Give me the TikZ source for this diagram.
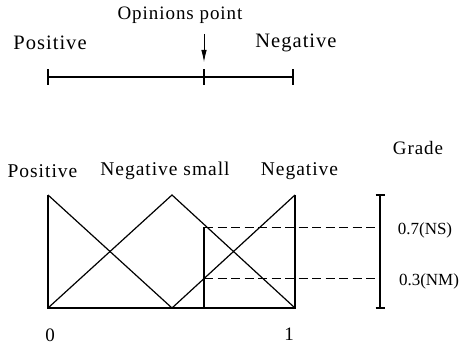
\documentclass[tikz,border=0pt]{standalone}
\usepackage{fontspec}
\setmainfont{Liberation Serif}[LetterSpace=5]
\newfontfamily\numfont{Liberation Serif}
\usetikzlibrary{arrows.meta}
\begin{document}
\begin{tikzpicture}[x=1pt,y=-1pt,
  lbl/.style={inner sep=0pt,font=\fontsize{19.5}{22}\selectfont},
  nlbl/.style={inner sep=0pt,font=\numfont\fontsize{17}{20}\selectfont},
  ln/.style={line width=1.2pt},
  dsh/.style={line width=0.9pt,dash pattern=on 9pt off 4.5pt},
  tick/.style={line width=1.2pt}]
\useasboundingbox (0,0) rectangle (461,344);
% ---- top scale ----
\node[lbl,font=\fontsize{19}{22}\selectfont] (op) at (180,15) {Opinions point};
\node[lbl,font=\fontsize{20.5}{22}\selectfont] (tpos) at (50,43) {Positive};
\node[lbl,font=\fontsize{20.5}{22}\selectfont] (tneg) at (296,43) {Negative};
\coordinate (a0) at (48,77);
\coordinate (a1) at (204,77);
\coordinate (a2) at (293,77);
\coordinate (arS) at (204,34);
\coordinate (arE) at (204,62);
\draw[ln] (a0) -- (a2);
\foreach \c in {a0,a1,a2}{\draw[tick] ([yshift=-8pt]\c) -- ([yshift=8pt]\c);}
\draw[line width=0.8pt,-{Latex[length=12pt,width=5.5pt]}] (arS) -- (arE);
% ---- membership functions ----
\node[lbl] (bpos) at (42.5,171) {Positive};
\node[lbl] (bns) at (165,171) {Negative small};
\node[lbl] (bneg) at (299.5,171) {Negative};
\node[lbl,font=\fontsize{19}{22}\selectfont] (grade) at (418,148) {Grade};
\coordinate (BL) at (48,308);
\coordinate (TL) at (48,195);
\coordinate (BR) at (295,308);
\coordinate (TR) at (295,195);
\coordinate (PK) at (172,195);
\coordinate (VB) at (172,308);
\coordinate (OB) at (204,308);
\coordinate (O7) at (204,227);
\coordinate (O3) at (204,278);
\coordinate (G7) at (380,227);
\coordinate (G3) at (380,278);
\coordinate (GT) at (380,195);
\coordinate (GB) at (380,308);
\draw[ln] (TL) -- (BL) -- (BR) -- (TR);
\draw[ln] (TL) -- (VB) -- (TR);
\draw[ln] (BL) -- (PK) -- (BR);
\draw[ln] (OB) -- (O7);
\draw[dsh] (O7) -- (G7);
\draw[dsh] (O3) -- (G3);
\draw[ln] (GT) -- (GB);
\draw[ln] ([xshift=-4.5pt]GT) -- ([xshift=4.5pt]GT);
\draw[ln] ([xshift=-4.5pt]GB) -- ([xshift=4.5pt]GB);
\node[nlbl] (l7) at (425,230) {0.7(NS)};
\node[nlbl] (l3) at (429,281) {0.3(NM)};
\node[nlbl,font=\numfont\fontsize{19}{22}\selectfont] (z0) at (50,335) {0};
\node[nlbl,font=\numfont\fontsize{19}{22}\selectfont] (z1) at (289,334) {1};
\end{tikzpicture}
\end{document}
